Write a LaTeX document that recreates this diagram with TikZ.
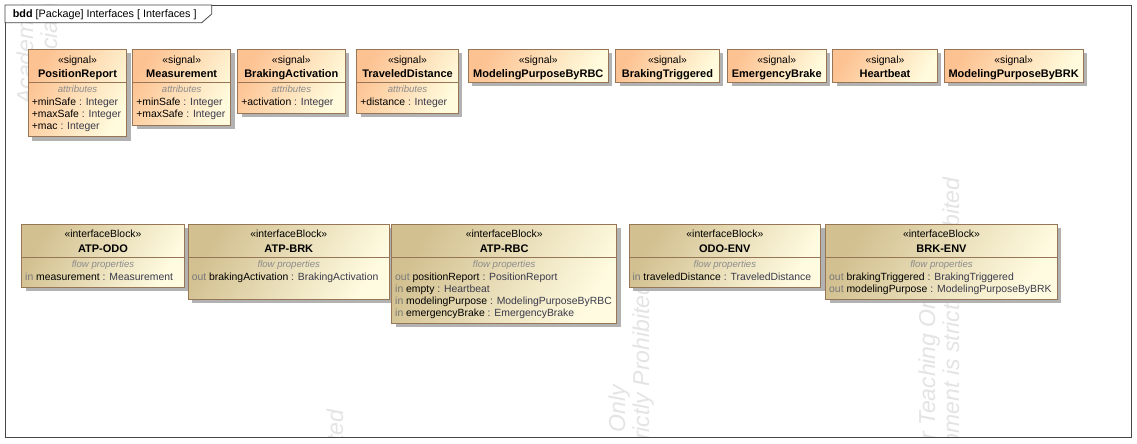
\documentclass[tikz,border=0pt]{standalone}
\usepackage{fontspec}
\setmainfont{Liberation Sans}
\usetikzlibrary{shadows,positioning}

\definecolor{sigleft}{RGB}{253,194,146}
\definecolor{sigright}{RGB}{255,251,220}
\definecolor{ifleft}{RGB}{210,192,144}
\definecolor{ifright}{RGB}{255,251,224}
\definecolor{boxline}{RGB}{150,118,86}
\definecolor{shadowgray}{RGB}{178,178,178}
\definecolor{kwgray}{RGB}{118,118,118}
\definecolor{tygray}{RGB}{58,58,74}
\definecolor{compgray}{RGB}{140,140,140}
\definecolor{framegray}{RGB}{70,70,70}
\definecolor{wmgray}{RGB}{228,228,228}

\newcommand{\flowkw}[1]{\textcolor{kwgray}{#1}}
\newcommand{\flowty}[1]{\textcolor{tygray}{#1}}

\begin{document}
\begin{tikzpicture}[x=1pt,y=-1pt,
    umlbox/.style={draw=boxline, line width=0.8pt, inner sep=0pt, outer sep=0pt,
      anchor=north west,
      general shadow={fill=shadowgray, shadow xshift=4pt, shadow yshift=-4pt}},
    sigbox/.style={umlbox, top color=sigleft, bottom color=sigright, shading angle=60},
    ifbox/.style={umlbox, top color=ifleft, bottom color=ifright, shading angle=60},
    stereo/.style={anchor=base, inner sep=0pt, font=\fontsize{10.4}{12}\selectfont},
    boxname/.style={anchor=base, inner sep=0pt, font=\fontsize{11}{13}\selectfont\bfseries},
    complbl/.style={anchor=base, inner sep=0pt, text=compgray,
      font=\fontsize{9.6}{11}\selectfont\itshape},
    attr/.style={anchor=base west, inner sep=0pt, font=\fontsize{10.4}{12}\selectfont},
    wmark/.style={rotate=90, anchor=base west, inner sep=0pt, text=wmgray,
      font=\fontsize{23}{26}\selectfont\itshape}]

  \useasboundingbox[fill=white] (0,0) rectangle (1137,444);

  % watermark
  \begin{scope}
    \clip (5,5) rectangle (1131.5,437.7);
    \node[wmark] (wmA1) at (33,105) {Academic Use for Teaching Only};
    \node[wmark] (wmA2) at (57,138) {Commercial Development is strictly Prohibited};
    \node[wmark] (wmB1) at (319,846) {Academic Use for Teaching Only};
    \node[wmark] (wmB2) at (343,879) {Commercial Development is strictly Prohibited};
    \node[wmark] (wmC1) at (625,719) {Academic Use for Teaching Only};
    \node[wmark] (wmC2) at (649,752) {Commercial Development is strictly Prohibited};
    \node[wmark] (wmD1) at (935,614) {Academic Use for Teaching Only};
    \node[wmark] (wmD2) at (959,647) {Commercial Development is strictly Prohibited};
  \end{scope}

  % frame and tab
  \draw[framegray, line width=0.9pt] (5,5) rectangle (1131.5,437.7);
  \draw[framegray, line width=0.8pt, fill=white]
    (5,5) -- (5,22.7) -- (201.7,22.7) -- (211.7,14) -- (211.7,5) -- cycle;
  \node[anchor=base west, inner sep=0pt, font=\fontsize{10.8}{13}\selectfont]
    (title) at (12.7,17.3) {\textbf{bdd} [Package] Interfaces [ Interfaces ]};

  % signals
  \foreach \nm/\x/\w/\h/\lbl in {
      posRep/28.3/98.4/87.4/PositionReport,
      meas/132.7/98/76/Measurement,
      brkAct/237.7/107.3/64/BrakingActivation,
      travDist/356.7/101.6/64/TraveledDistance,
      modRBC/468.3/140/33/ModelingPurposeByRBC,
      brkTrig/615.7/103.6/33/BrakingTriggered,
      emBrk/727.5/98.5/33/EmergencyBrake,
      hb/832.7/104.6/33/Heartbeat,
      modBRK/944/139.3/33/ModelingPurposeByBRK}{
    \node[sigbox, minimum width=\w pt, minimum height=\h pt] (\nm) at (\x,49.3) {};
    \node[stereo] (\nm-st) at ([yshift=-13.8pt]\nm.north) {«signal»};
    \node[boxname] (\nm-nm) at ([yshift=-28pt]\nm.north) {\lbl};
    \draw[boxline, line width=0.8pt] ([yshift=-33pt]\nm.north west) -- ([yshift=-33pt]\nm.north east);
  }

  \foreach \nm in {posRep,meas,brkAct,travDist}
    \node[complbl] (\nm-cl) at ([yshift=-43.4pt]\nm.north) {attributes};

  \node[attr] (posRep-a1) at ([xshift=3.4pt,yshift=-55.7pt]posRep.north west) {+minSafe \flowty{: Integer}};
  \node[attr] (posRep-a2) at ([xshift=3.4pt,yshift=-67.7pt]posRep.north west) {+maxSafe \flowty{: Integer}};
  \node[attr] (posRep-a3) at ([xshift=3.4pt,yshift=-79.7pt]posRep.north west) {+mac \flowty{: Integer}};
  \node[attr] (meas-a1) at ([xshift=3.4pt,yshift=-55.7pt]meas.north west) {+minSafe \flowty{: Integer}};
  \node[attr] (meas-a2) at ([xshift=3.4pt,yshift=-67.7pt]meas.north west) {+maxSafe \flowty{: Integer}};
  \node[attr] (brkAct-a1) at ([xshift=3.4pt,yshift=-55.7pt]brkAct.north west) {+activation \flowty{: Integer}};
  \node[attr] (travDist-a1) at ([xshift=3.4pt,yshift=-55.7pt]travDist.north west) {+distance \flowty{: Integer}};

  % interface blocks
  \foreach \nm/\x/\w/\h/\lbl in {
      atpOdo/21.7/162.6/63/ATP-ODO,
      atpBrk/188.3/201/75/ATP-BRK,
      atpRbc/391.7/225/99/ATP-RBC,
      odoEnv/629/191.7/63/ODO-ENV,
      brkEnv/825.7/231.6/75/BRK-ENV}{
    \node[ifbox, minimum width=\w pt, minimum height=\h pt] (\nm) at (\x,224.3) {};
    \node[stereo] (\nm-st) at ([yshift=-13.4pt]\nm.north) {«interfaceBlock»};
    \node[boxname] (\nm-nm) at ([yshift=-28pt]\nm.north) {\lbl};
    \draw[boxline, line width=0.8pt] ([yshift=-33pt]\nm.north west) -- ([yshift=-33pt]\nm.north east);
    \node[complbl] (\nm-cl) at ([yshift=-43.6pt]\nm.north) {flow properties};
  }

  \node[attr] (atpOdo-f1) at ([xshift=3.3pt,yshift=-55.7pt]atpOdo.north west) {\flowkw{in} measurement \flowty{: Measurement}};
  \node[attr] (atpBrk-f1) at ([xshift=3.3pt,yshift=-55.7pt]atpBrk.north west) {\flowkw{out} brakingActivation \flowty{: BrakingActivation}};
  \node[attr] (atpRbc-f1) at ([xshift=3.3pt,yshift=-55.7pt]atpRbc.north west) {\flowkw{out} positionReport \flowty{: PositionReport}};
  \node[attr] (atpRbc-f2) at ([xshift=3.3pt,yshift=-67.7pt]atpRbc.north west) {\flowkw{in} empty \flowty{: Heartbeat}};
  \node[attr] (atpRbc-f3) at ([xshift=3.3pt,yshift=-79.7pt]atpRbc.north west) {\flowkw{in} modelingPurpose \flowty{: ModelingPurposeByRBC}};
  \node[attr] (atpRbc-f4) at ([xshift=3.3pt,yshift=-91.7pt]atpRbc.north west) {\flowkw{in} emergencyBrake \flowty{: EmergencyBrake}};
  \node[attr] (odoEnv-f1) at ([xshift=3.3pt,yshift=-55.7pt]odoEnv.north west) {\flowkw{in} traveledDistance \flowty{: TraveledDistance}};
  \node[attr] (brkEnv-f1) at ([xshift=3.3pt,yshift=-55.7pt]brkEnv.north west) {\flowkw{out} brakingTriggered \flowty{: BrakingTriggered}};
  \node[attr] (brkEnv-f2) at ([xshift=3.3pt,yshift=-67.7pt]brkEnv.north west) {\flowkw{out} modelingPurpose \flowty{: ModelingPurposeByBRK}};
\end{tikzpicture}
\end{document}
